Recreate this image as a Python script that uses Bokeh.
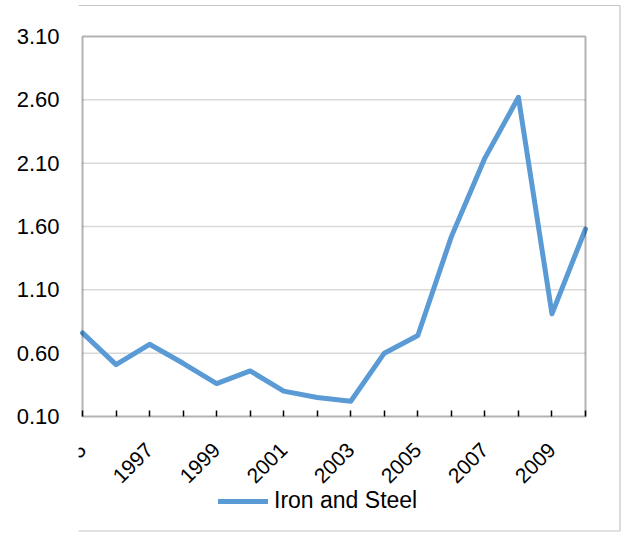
from bokeh.plotting import figure
from bokeh.models import (FixedTicker, PrintfTickFormatter, Legend, LegendItem,
                          Range1d, BoxAnnotation, LinearAxis)
from bokeh.embed import file_html
from bokeh.resources import INLINE
import math

# ---------------- data ----------------
years = [1995, 1996, 1997, 1998, 1999, 2000, 2001, 2002, 2003, 2004,
         2005, 2006, 2007, 2008, 2009, 2010]
iron_and_steel = [0.76, 0.51, 0.67, 0.52, 0.36, 0.46, 0.30, 0.25, 0.22, 0.60,
                  0.74, 1.52, 2.14, 2.62, 0.91, 1.58]
x_label_years = [1995, 1997, 1999, 2001, 2003, 2005, 2007, 2009]
x_minor_years = [1996, 1998, 2000, 2002, 2004, 2006, 2008, 2010]
y_ticks = [0.10, 0.60, 1.10, 1.60, 2.10, 2.60, 3.10]
series_name = "Iron and Steel"

FONT = "Liberation Sans"

# ---------------- layout geometry (pixels) ----------------
PPY = 503 / 15.0          # pixels per year inside the plot box
PPU = 380 / 3.0           # pixels per value unit
BOX_LEFT_IN_FRAME = 4     # plot box left edge, px right of frame left
BOX_TOP_IN_FRAME = 36     # plot box top edge, px below frame top
FRAME_W = 543
FRAME_H = 533

x_start = years[0] - BOX_LEFT_IN_FRAME / PPY
x_end = x_start + FRAME_W / PPY
y_end = y_ticks[-1] + BOX_TOP_IN_FRAME / PPU
y_start = y_end - FRAME_H / PPU


def fx(px):  # frame-relative pixel -> x data
    return x_start + px / PPY


def fy(py):  # frame-relative pixel (from top) -> y data
    return y_end - py / PPU


p = figure(frame_width=FRAME_W, frame_height=FRAME_H, output_backend="svg",
           toolbar_location=None,
           x_range=Range1d(x_start, x_end), y_range=Range1d(y_start, y_end),
           min_border_left=78, min_border_right=0, min_border_top=0,
           min_border_bottom=0)

p.outline_line_color = None
p.background_fill_color = "white"
p.border_fill_color = "white"
p.xgrid.grid_line_color = None
p.ygrid.grid_line_color = None

# gridlines only across the plot box
p.segment(x0=years[0], x1=years[-1], y0=y_ticks[1:-1], y1=y_ticks[1:-1],
          line_color="#d9d9d9", line_width=1.5)

r = p.line(years, iron_and_steel, line_color="#5B9BD5", line_width=5,
           line_join="round", line_cap="round")

# plot box
p.add_layout(BoxAnnotation(left=years[0], right=years[-1],
                           bottom=y_ticks[0], top=y_ticks[-1],
                           fill_alpha=0, fill_color=None,
                           line_color="black", line_width=2))

# outer chart border (top / right / bottom inside frame)
p.add_layout(BoxAnnotation(left=fx(-65), right=fx(541.5),
                           bottom=fy(530.5), top=fy(5),
                           fill_alpha=0, fill_color=None,
                           line_color="#404040", line_width=1.2))

# x axis, pinned to the bottom of the plot box
xa = p.xaxis[0]
xa.fixed_location = y_ticks[0]
xa.ticker = FixedTicker(ticks=x_label_years, minor_ticks=x_minor_years)
xa.major_label_orientation = math.pi / 4
xa.major_tick_in = 6
xa.major_tick_out = 0
xa.minor_tick_in = 6
xa.minor_tick_out = 0
xa.major_tick_line_color = "black"
xa.minor_tick_line_color = "black"
xa.major_tick_line_width = 1.5
xa.minor_tick_line_width = 1.5
xa.axis_line_color = None
xa.major_label_standoff = 30
xa.major_label_text_font = FONT
xa.major_label_text_font_size = "21px"
xa.major_label_text_color = "black"

# y axis
ya = p.yaxis[0]
ya.ticker = FixedTicker(ticks=y_ticks)
ya.formatter = PrintfTickFormatter(format="%.2f")
ya.major_tick_line_color = None
ya.minor_tick_line_color = None
ya.major_tick_out = 0
ya.major_tick_in = 0
ya.axis_line_color = None
ya.major_label_standoff = 19
ya.major_label_text_font = FONT
ya.major_label_text_font_size = "22px"
ya.major_label_text_color = "black"

# left side of the outer chart border
border_left = LinearAxis(fixed_location=fx(-65), ticker=FixedTicker(ticks=[]),
                         axis_line_color="#404040", axis_line_width=1.2,
                         major_tick_line_color=None, minor_tick_line_color=None,
                         major_tick_in=0, major_tick_out=0,
                         minor_tick_in=0, minor_tick_out=0,
                         major_label_standoff=0)
p.add_layout(border_left, "left")

# legend inside the (tall) frame, below the plot box
legend = Legend(items=[LegendItem(label=series_name, renderers=[r])],
                location=(140, 19), orientation="horizontal",
                border_line_color=None, background_fill_alpha=0,
                glyph_width=50, glyph_height=24, label_standoff=6,
                padding=0, margin=0,
                label_text_font=FONT, label_text_font_size="23px",
                label_text_color="black")
p.add_layout(legend, "center")

open("out.html", "w").write(file_html(p, INLINE))
